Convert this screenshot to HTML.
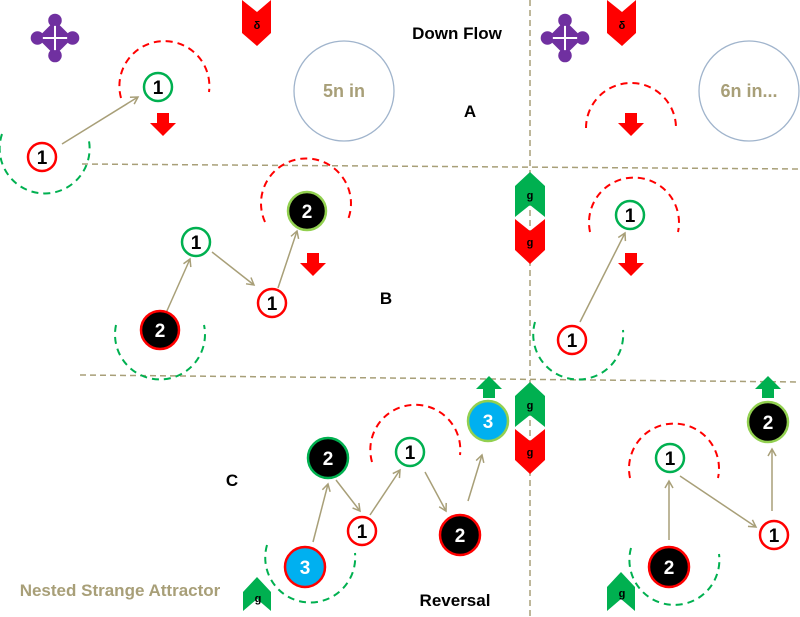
<!DOCTYPE html>
<html><head><style>html,body{margin:0;padding:0;background:#fff}svg{display:block}
text{font-family:"Liberation Sans Narrow","Liberation Sans",sans-serif;font-weight:bold}</style></head><body>
<svg width="800" height="617" viewBox="0 0 800 617">
<defs>
<marker id="ar" markerWidth="10" markerHeight="10" refX="8" refY="5" orient="auto" markerUnits="userSpaceOnUse"><path d="M1,1 L8,5 L1,9" fill="none" stroke="#a89f78" stroke-width="1.5"/></marker>
<g id="pur"><g fill="#7030a0"><circle cx="0" cy="-13" r="5"/><circle cx="0" cy="13" r="5"/><circle cx="-13" cy="0" r="5"/><circle cx="13" cy="0" r="5"/><path d="M0,-13 L13,0 L0,13 L-13,0Z"/></g><path d="M-9,0H9M0,-9V9" stroke="#fff" stroke-width="1.5"/></g>
</defs>
<g stroke="#a89f78" stroke-width="1.5" stroke-dasharray="6,4" fill="none">
<line x1="82" y1="164" x2="800" y2="169"/>
<line x1="80" y1="375" x2="800" y2="382"/>
<line x1="530" y1="0" x2="530" y2="617"/>
</g>
<use href="#pur" transform="translate(55,38) scale(1.35)"/><use href="#pur" transform="translate(565,38) scale(1.35)"/>
<g fill="#f00"><polygon points="242,0 257,12 271,0 271,33 257,46 242,33"/><polygon points="607,0 622,12 636,0 636,33 622,46 607,33"/></g>
<g font-size="11" fill="#000" text-anchor="middle"><text x="257" y="29">δ</text><text x="622" y="29">δ</text></g>
<text x="457" y="39" font-size="17" text-anchor="middle" fill="#000">Down Flow</text>
<circle cx="344" cy="91" r="50" fill="none" stroke="#a0b4cc" stroke-width="1.3"/>
<circle cx="749" cy="91" r="50" fill="none" stroke="#a0b4cc" stroke-width="1.3"/>
<text x="344" y="97" font-size="18" text-anchor="middle" fill="#a89f78">5n in</text>
<text x="749" y="97" font-size="18" text-anchor="middle" fill="#a89f78">6n in...</text>
<text x="470" y="117" font-size="17" text-anchor="middle">A</text>
<text x="386" y="304" font-size="17" text-anchor="middle">B</text>
<text x="232" y="486" font-size="17" text-anchor="middle">C</text>
<g fill="none" stroke-width="2" stroke-dasharray="7,5">
<g stroke="#f00">
<path d="M121,98 A45,45 0 1 1 209,92"/>
<path d="M586,128 A45,45 0 1 1 676,128"/>
<path d="M265,222 A45,45 0 1 1 347,222"/>
<path d="M590,232 A45,45 0 1 1 678,232"/>
<path d="M372,462 A45,45 0 1 1 460,455"/>
<path d="M630,478 A45,45 0 1 1 718,478"/>
</g>
<g stroke="#00b050">
<path d="M2,134 A45,45 0 1 0 89,141"/>
<path d="M116,325 A45,45 0 1 0 204,325"/>
<path d="M535,322 A45,45 0 1 0 623,330"/>
<path d="M267,545 A45,45 0 1 0 355,553"/>
<path d="M631,548 A45,45 0 1 0 719,554"/>
</g></g>
<g stroke="#a89f78" stroke-width="1.5" marker-end="url(#ar)">
<line x1="62" y1="144" x2="138" y2="97"/>
<line x1="166" y1="313" x2="190" y2="259"/>
<line x1="212" y1="252" x2="254" y2="285"/>
<line x1="278" y1="288" x2="297" y2="231"/>
<line x1="580" y1="322" x2="625" y2="233"/>
<line x1="313" y1="542" x2="328" y2="484"/>
<line x1="336" y1="480" x2="360" y2="511"/>
<line x1="370" y1="515" x2="400" y2="470"/>
<line x1="425" y1="472" x2="446" y2="511"/>
<line x1="468" y1="501" x2="482" y2="455"/>
<line x1="669" y1="540" x2="669" y2="481"/>
<line x1="680" y1="476" x2="756" y2="527"/>
<line x1="772" y1="511" x2="772" y2="449"/>
</g>
<g fill="#f00">
<path d="M157,113h12v10h7l-13,13l-13,-13h7z"/>
<path d="M625,113h12v10h7l-13,13l-13,-13h7z"/>
<path d="M307,253h12v10h7l-13,13l-13,-13h7z"/>
<path d="M625,253h12v10h7l-13,13l-13,-13h7z"/>
</g>
<g fill="#00b050">
<path d="M483,398h12v-9h7l-13,-13l-13,13h7z"/>
<path d="M762,398h12v-9h7l-13,-13l-13,13h7z"/>
</g>
<g><polygon points="515,186 530,172 545,186 545,217 530,205 515,217" fill="#00b050"/>
<polygon points="515,219 530,231 545,219 545,250 530,264 515,250" fill="#f00"/>
<polygon points="515,396 530,382 545,396 545,427 530,415 515,427" fill="#00b050"/>
<polygon points="515,429 530,441 545,429 545,460 530,474 515,460" fill="#f00"/>
<polygon points="243,592 257,577 271,592 271,611 257,599 243,611" fill="#00b050"/>
<polygon points="607,587 621,572 635,587 635,611 621,599 607,611" fill="#00b050"/></g>
<g font-size="11" fill="#000" text-anchor="middle">
<text x="530" y="199">g</text><text x="530" y="246">g</text>
<text x="530" y="409">g</text><text x="530" y="456">g</text>
<text x="258" y="602">g</text><text x="622" y="597">g</text></g>
<g stroke-width="2.5">
<g fill="#fff"><circle cx="42" cy="157" r="14" stroke="#f00"/><circle cx="158" cy="87" r="14" stroke="#00b050"/>
<circle cx="196" cy="242" r="14" stroke="#00b050"/><circle cx="272" cy="303" r="14" stroke="#f00"/>
<circle cx="572" cy="340" r="14" stroke="#f00"/><circle cx="630" cy="215" r="14" stroke="#00b050"/>
<circle cx="362" cy="531" r="14" stroke="#f00"/><circle cx="410" cy="452" r="14" stroke="#00b050"/>
<circle cx="670" cy="458" r="14" stroke="#00b050"/><circle cx="774" cy="535" r="14" stroke="#f00"/></g>
<g fill="#000"><circle cx="160" cy="330" r="19" stroke="#f00"/><circle cx="307" cy="211" r="19" stroke="#92d050"/>
<circle cx="328" cy="458" r="20" stroke="#00b050"/><circle cx="460" cy="535" r="20" stroke="#f00"/>
<circle cx="669" cy="567" r="20" stroke="#f00"/><circle cx="768" cy="422" r="20" stroke="#92d050"/></g>
<g fill="#00b0f0"><circle cx="488" cy="421" r="20" stroke="#92d050"/><circle cx="305" cy="567" r="20" stroke="#f00"/></g>
</g>
<g font-size="19" text-anchor="middle">
<g fill="#000"><text x="42" y="164">1</text><text x="158" y="94">1</text><text x="196" y="249">1</text><text x="272" y="310">1</text><text x="572" y="347">1</text><text x="630" y="222">1</text><text x="362" y="538">1</text><text x="410" y="459">1</text><text x="670" y="465">1</text><text x="774" y="542">1</text></g>
<g fill="#fff"><text x="160" y="337">2</text><text x="307" y="218">2</text><text x="328" y="465">2</text><text x="460" y="542">2</text><text x="669" y="574">2</text><text x="768" y="429">2</text><text x="488" y="428">3</text><text x="305" y="574">3</text></g>
</g>
<text x="120" y="596" font-size="17" text-anchor="middle" fill="#a89f78">Nested Strange Attractor</text>
<text x="455" y="606" font-size="17" text-anchor="middle" fill="#000">Reversal</text>
</svg>
</body></html>
